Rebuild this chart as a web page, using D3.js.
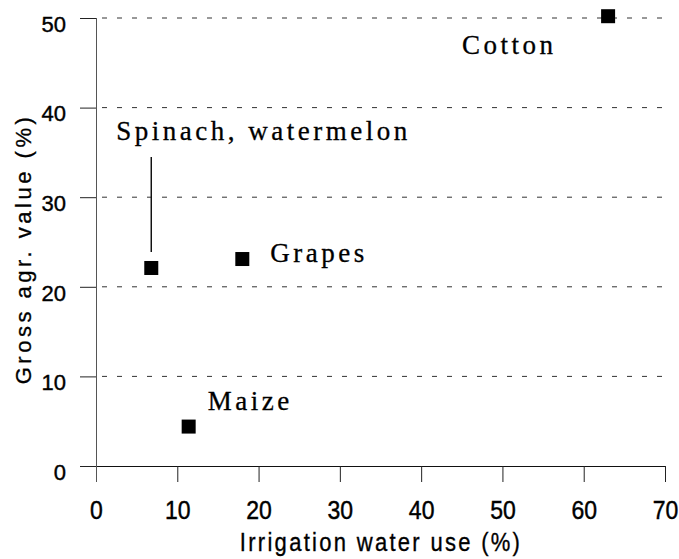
<!DOCTYPE html>
<html lang="en">
<head>
  <meta charset="UTF-8">
  <script src="https://d3js.org/d3.v7.min.js"></script>
  <style>
    body { margin: 0; background: #fff; }
    .tick text { font-family: "Liberation Sans", Arial, sans-serif; font-size: 23px; fill: #000; stroke: #000; stroke-width: 0.4px; }
    .lab { font-family: "Liberation Serif", "Times New Roman", serif; font-size: 27px; letter-spacing: 3.5px; fill: #000; stroke: #000; stroke-width: 0.3px; }
    .ttl { font-family: "Liberation Sans", Arial, sans-serif; font-size: 22px; fill: #000; stroke: #000; stroke-width: 0.3px; }
  </style>
</head>
<body>
<svg id="chart" width="679" height="559"></svg>
<script>
  // crops, irrigation water use (%), gross agricultural value (%)
  var crops = ['Cotton', 'Spinach, watermelon', 'Grapes', 'Maize'];
  var waterUse = [63, 6.8, 18, 11.4];
  var grossValue = [50.2, 22.1, 23.1, 4.4];
  var xTicks = [0, 10, 20, 30, 40, 50, 60, 70];
  var yTicks = [0, 10, 20, 30, 40, 50];

  // label offsets from the point, in px
  var labelDx = [-146, -35, 28, 19];
  var labelDy = [38, -128, 3, -17];

  var svg = d3.select('#chart');
  var x = d3.scaleLinear().domain([0, 70]).range([96, 665]);
  var y = d3.scaleLinear().domain([0, 50]).range([466, 18]);

  // dotted gridlines
  svg.append('g').selectAll('line')
    .data(yTicks.filter(d => d > 0)).enter().append('line')
    .attr('x1', x(0) + 6).attr('x2', x(70))
    .attr('y1', d => y(d)).attr('y2', d => y(d))
    .attr('stroke', '#333').attr('stroke-width', 1)
    .attr('stroke-dasharray', '5,10');

  var xAxis = svg.append('g').attr('transform', 'translate(0,' + y(0) + ')')
    .call(d3.axisBottom(x).tickValues(xTicks).tickSize(16).tickPadding(19).tickSizeOuter(0));
  var yAxis = svg.append('g').attr('transform', 'translate(' + x(0) + ',0)')
    .call(d3.axisLeft(y).tickValues(yTicks).tickSize(16).tickPadding(14).tickSizeOuter(0));

  xAxis.select('.domain').attr('d', 'M' + (x(0) - 16) + ',0.5H' + x(70)).attr('stroke', '#111');
  yAxis.select('.domain').attr('d', 'M0.5,' + y(50) + 'V' + (y(0) + 16)).attr('stroke', '#555');
  svg.selectAll('.tick line').attr('stroke', '#222');
  yAxis.selectAll('.tick text').attr('dy', '0.6em').style('font-size', '22px');
  // x tick labels are a bit taller in the scan
  xAxis.selectAll('.tick text').attr('y', 0).attr('dy', 0)
    .attr('transform', 'translate(0,53) scale(1,1.15)');

  // leader line for spinach
  svg.append('line')
    .attr('x1', x(waterUse[1])).attr('x2', x(waterUse[1]))
    .attr('y1', y(grossValue[1]) - 111).attr('y2', y(grossValue[1]) - 16)
    .attr('stroke', '#111').attr('stroke-width', 1.5);

  var s = 14;
  svg.append('g').selectAll('rect')
    .data(crops).enter().append('rect')
    .attr('x', (d, i) => x(waterUse[i]) - s / 2)
    .attr('y', (d, i) => y(grossValue[i]) - s / 2)
    .attr('width', s).attr('height', s).attr('fill', '#000');

  svg.append('g').selectAll('text')
    .data(crops).enter().append('text')
    .attr('class', 'lab')
    .attr('x', (d, i) => x(waterUse[i]) + labelDx[i])
    .attr('y', (d, i) => y(grossValue[i]) + labelDy[i])
    .text(d => d);

  svg.append('text').attr('class', 'ttl')
    .attr('transform', 'translate(381,551) scale(1,1.18)').attr('text-anchor', 'middle')
    .style('letter-spacing', '2.3px')
    .text('Irrigation water use (%)');
  svg.append('text').attr('class', 'ttl')
    .attr('transform', 'translate(31,249) rotate(-90)').attr('text-anchor', 'middle')
    .style('letter-spacing', '3.5px')
    .text('Gross agr. value (%)');
</script>
</body>
</html>
